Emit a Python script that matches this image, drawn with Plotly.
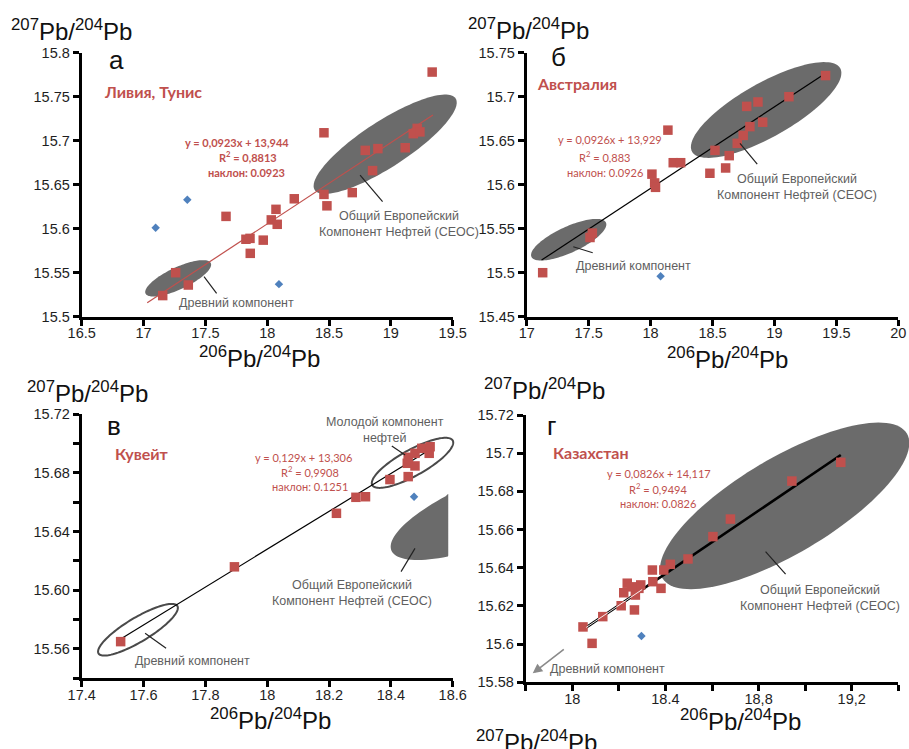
import numpy as np
import plotly.graph_objects as go

W, H = 909, 749

# ---------------- data ----------------
# а) Ливия, Тунис
a_x = [19.334, 18.459, 19.213, 19.181, 19.235, 18.793, 18.895, 19.116, 18.852, 18.688, 18.459, 18.483,
       18.219, 18.071, 17.667, 18.033, 18.081, 17.828, 17.861, 17.968, 17.863, 17.260, 17.362, 17.155]
a_y = [15.778, 15.709, 15.714, 15.708, 15.710, 15.689, 15.691, 15.692, 15.666, 15.641, 15.639, 15.626,
       15.634, 15.622, 15.614, 15.610, 15.605, 15.588, 15.589, 15.587, 15.572, 15.550, 15.536, 15.524]
a_bx = [17.354, 17.098, 18.095]
a_by = [15.633, 15.601, 15.537]
a_fit = dict(slope=0.0923, icpt=13.944, r2="0,8813", x=[17.03, 19.34])

# б) Австралия
b_x = [19.413, 19.117, 18.776, 18.867, 18.905, 18.802, 18.748, 18.700, 18.635, 18.520, 18.606,
       18.479, 18.140, 18.183, 18.243, 18.011, 18.033, 18.040, 17.511, 17.530, 17.129]
b_y = [15.724, 15.700, 15.689, 15.694, 15.671, 15.666, 15.656, 15.647, 15.633, 15.639, 15.619,
       15.613, 15.662, 15.625, 15.625, 15.612, 15.602, 15.597, 15.540, 15.545, 15.500]
b_bx = [18.081]
b_by = [15.496]
b_fit = dict(slope=0.0926, icpt=13.929, r2="0,883", x=[17.12, 19.41])

# в) Кувейт
v_x = [17.526, 17.894, 18.224, 18.287, 18.318, 18.397, 18.456, 18.478, 18.453, 18.456, 18.478,
       18.500, 18.524, 18.527]
v_y = [15.565, 15.616, 15.6525, 15.6634, 15.6638, 15.6755, 15.6775, 15.6848, 15.6866, 15.6907,
       15.6934, 15.6968, 15.6934, 15.6979]
v_bx = [18.475]
v_by = [15.6638]
v_fit = dict(slope=0.129, icpt=13.306, r2="0,9908", x=[17.526, 18.527])

# г) Казахстан
g_x = [19.153, 18.943, 18.679, 18.604, 18.497, 18.421, 18.393, 18.344, 18.346, 18.381, 18.294,
       18.236, 18.221, 18.271, 18.210, 18.267, 18.131, 18.046, 18.085, 18.286, 18.255]
g_y = [15.6952, 15.6854, 15.6655, 15.6563, 15.6446, 15.6418, 15.6388, 15.6388, 15.6327, 15.6292,
       15.6310, 15.6319, 15.6269, 15.6257, 15.6201, 15.6179, 15.6144, 15.6090, 15.6004, 15.6292,
       15.6300]
g_bx = [18.297]
g_by = [15.6043]
g_fit = dict(slope=0.0826, icpt=14.117, r2="0,9494", x=[18.046, 19.153])
g_fit_core = [18.06, 18.30]

# tick values / labels
a_xt = [16.5, 17, 17.5, 18, 18.5, 19, 19.5]
a_xl = ["16.5", "17", "17.5", "18", "18.5", "19", "19.5"]
a_yt = [15.5, 15.55, 15.6, 15.65, 15.7, 15.75, 15.8]
a_yl = ["15.5", "15.55", "15.6", "15.65", "15.7", "15.75", "15.8"]
b_xt = [17, 17.5, 18, 18.5, 19, 19.5, 20]
b_xl = ["17", "17.5", "18", "18.5", "19", "19.5", "20"]
b_yt = [15.45, 15.5, 15.55, 15.6, 15.65, 15.7, 15.75]
b_yl = ["15.45", "15.5", "15.55", "15.6", "15.65", "15.7", "15.75"]
v_xt = [17.4, 17.6, 17.8, 18.0, 18.2, 18.4, 18.6]
v_xl = ["17.4", "17.6", "17.8", "18", "18.2", "18.4", "18.6"]
v_yt = [15.54, 15.56, 15.58, 15.60, 15.62, 15.64, 15.66, 15.68, 15.70, 15.72]
v_yl = ["", "15.56", "", "15.60", "", "15.64", "", "15.68", "", "15.72"]
g_xt = [17.8, 18.0, 18.2, 18.4, 18.6, 18.8, 19.0, 19.2, 19.4]
g_xl = ["", "18", "", "18.4", "", "18,8", "", "19,2", ""]
g_yt = [15.58, 15.60, 15.62, 15.64, 15.66, 15.68, 15.70, 15.72]
g_yl = ["15.58", "15.6", "15.62", "15.64", "15.66", "15.68", "15.7", "15.72"]

# ---------------- styling ----------------
RED = "#c0504d"
BLUE = "#4f81bd"
GREY_FILL = "#6b6b6b"
LABEL_GREY = "#5f5f5f"
ARIAL = "Liberation Sans, Arial, sans-serif"
CALI = "Lato, Open Sans, sans-serif"

PANELS = {
    "a": dict(ax="", xd=(81.7 / W, 452.7 / W), yd=(1 - 316.7 / H, 1 - 52.7 / H),
              xr=(16.5, 19.5), yr=(15.5, 15.8)),
    "b": dict(ax="2", xd=(526.7 / W, 898.3 / W), yd=(1 - 316.7 / H, 1 - 52.7 / H),
              xr=(17.0, 20.0), yr=(15.45, 15.75)),
    "v": dict(ax="3", xd=(81.7 / W, 452.7 / W), yd=(1 - 678.3 / H, 1 - 414.3 / H),
              xr=(17.4, 18.6), yr=(15.54, 15.72)),
    "g": dict(ax="4", xd=(525.7 / W, 898.3 / W), yd=(1 - 682.3 / H, 1 - 415.0 / H),
              xr=(17.8, 19.4), yr=(15.58, 15.72)),
}


def to_paper(p, x, y):
    P = PANELS[p]
    px = P["xd"][0] + (x - P["xr"][0]) / (P["xr"][1] - P["xr"][0]) * (P["xd"][1] - P["xd"][0])
    py = P["yd"][0] + (y - P["yr"][0]) / (P["yr"][1] - P["yr"][0]) * (P["yd"][1] - P["yd"][0])
    return px, py


def ellipse_path(p, cx, cy, a_px, b_px, ang, clip_x=None):
    x0, y0 = to_paper(p, cx, cy)
    t = np.linspace(0, 2 * np.pi, 121)
    th = np.radians(ang)
    dx = a_px * np.cos(t) * np.cos(th) - b_px * np.sin(t) * np.sin(th)
    dy = a_px * np.cos(t) * np.sin(th) + b_px * np.sin(t) * np.cos(th)
    xs = x0 + dx / W
    ys = y0 + dy / H
    if clip_x is not None:
        xs = np.minimum(xs, to_paper(p, clip_x, cy)[0])
    pts = " L ".join(f"{a:.5f},{b:.5f}" for a, b in zip(xs, ys))
    return "M " + pts + " Z"


fig = go.Figure()
shapes = []
annotations = []


def add_panel(p, xs, ys, bx, by, fit, line_color, line_w):
    ax = PANELS[p]["ax"]
    xref, yref = "x" + ax, "y" + ax
    fx = np.array(fit["x"])
    fy = fit["slope"] * fx + fit["icpt"]
    fig.add_trace(go.Scatter(x=fx, y=fy, mode="lines", xaxis=xref, yaxis=yref,
                             line=dict(color=line_color, width=line_w), hoverinfo="skip"))
    fig.add_trace(go.Scatter(x=xs, y=ys, mode="markers", xaxis=xref, yaxis=yref,
                             marker=dict(symbol="square", size=9.5, color=RED), cliponaxis=False))
    fig.add_trace(go.Scatter(x=bx, y=by, mode="markers", xaxis=xref, yaxis=yref,
                             marker=dict(symbol="diamond", size=6.5, color=BLUE), cliponaxis=False))


add_panel("a", a_x, a_y, a_bx, a_by, a_fit, RED, 1.2)
add_panel("b", b_x, b_y, b_bx, b_by, b_fit, "black", 1.2)
add_panel("v", v_x, v_y, v_bx, v_by, v_fit, "black", 1.2)
add_panel("g", g_x, g_y, g_bx, g_by, g_fit, "black", 2.6)
# light core of the Kazakhstan trend line near its lower end
cx_ = np.array(g_fit_core)
fig.add_trace(go.Scatter(x=cx_, y=g_fit["slope"] * cx_ + g_fit["icpt"], mode="lines",
                         xaxis="x4", yaxis="y4", line=dict(color="white", width=0.9),
                         hoverinfo="skip"))

# ---------------- axes ----------------
axis_common = dict(showline=True, linecolor="black", linewidth=3, ticks="outside", ticklen=6,
                   tickwidth=3, tickcolor="black", showgrid=False, zeroline=False,
                   automargin=False,
                   tickfont=dict(family=ARIAL, size=14.5, color="#1e1e1e"), tickmode="array",
                   fixedrange=True)
ticks = {"a": (a_xt, a_xl, a_yt, a_yl), "b": (b_xt, b_xl, b_yt, b_yl),
         "v": (v_xt, v_xl, v_yt, v_yl), "g": (g_xt, g_xl, g_yt, g_yl)}
layout_axes = {}
for p, P in PANELS.items():
    ax = P["ax"]
    xt, xl, yt, yl = ticks[p]
    layout_axes["xaxis" + ax] = dict(axis_common, domain=list(P["xd"]), range=list(P["xr"]),
                                     tickvals=xt, ticktext=xl, anchor="y" + ax,
                                     ticklabelstandoff=-5)
    layout_axes["yaxis" + ax] = dict(axis_common, domain=list(P["yd"]), range=list(P["yr"]),
                                     tickvals=yt, ticktext=yl, anchor="x" + ax)

# ---------------- ellipses ----------------
def fill_ellipse(p, cx, cy, a_px, b_px, ang, clip_x=None):
    shapes.append(dict(type="path", xref="paper", yref="paper", layer="below",
                       path=ellipse_path(p, cx, cy, a_px, b_px, ang, clip_x),
                       fillcolor=GREY_FILL, line=dict(width=0)))


def ring_ellipse(p, cx, cy, a_px, b_px, ang):
    shapes.append(dict(type="path", xref="paper", yref="paper", layer="below",
                       path=ellipse_path(p, cx, cy, a_px, b_px, ang),
                       fillcolor="rgba(0,0,0,0)", line=dict(color="#4a4a4a", width=2)))


fill_ellipse("a", 18.954, 15.696, 84, 23, 33)
fill_ellipse("a", 17.280, 15.5436, 36, 11, 25)
fill_ellipse("b", 18.933, 15.6849, 85, 27, 29.4)
fill_ellipse("b", 17.339, 15.5375, 41, 13, 24.7)
ring_ellipse("v", 18.470, 15.6869, 46, 13, 29)
ring_ellipse("v", 17.582, 15.5731, 46, 12, 31)
fill_ellipse("v", 18.7315, 15.6553, 110, 32, 22, clip_x=18.5856)
fill_ellipse("g", 18.912, 15.6724, 142, 48, 30.6)


def leader(p, x0, y0, x1, y1, color="#222222"):
    ax = PANELS[p]["ax"]
    shapes.append(dict(type="line", xref="x" + ax, yref="y" + ax, x0=x0, y0=y0, x1=x1, y1=y1,
                       line=dict(color=color, width=1.2)))


leader("a", 18.751, 15.661, 18.933, 15.6307)
leader("a", 17.489, 15.5455, 17.591, 15.5266)
leader("b", 18.722, 15.647, 18.861, 15.6235)
leader("b", 17.376, 15.5295, 17.533, 15.5227)
leader("v", 18.403, 15.6984, 18.446, 15.6922)
leader("v", 17.605, 15.5707, 17.673, 15.5605)
leader("v", 18.478, 15.6286, 18.433, 15.6127)
leader("g", 18.830, 15.6484, 18.916, 15.6367)

# ---------------- labels ----------------
def label(p, x, y, text, size, color, family, **kw):
    ax = PANELS[p]["ax"]
    annotations.append(dict(xref="x" + ax, yref="y" + ax, x=x, y=y, text=text, showarrow=False,
                            font=dict(family=family, size=size, color=color),
                            xanchor="center", yanchor="middle", **kw))


CEOC = "Общий Европейский<br>Компонент Нефтей (СЕОС)"
OLD = "Древний компонент"

# а
label("a", 16.783, 15.7917, "а", 26, "#111111", ARIAL)
label("a", 17.080, 15.7557, "<b>Ливия, Тунис</b>", 16, RED, CALI)
label("a", 17.753, 15.6977, "<b>y = 0,0923x + 13,944</b>", 11, RED, CALI)
label("a", 17.842, 15.6818, f"<b>R<sup>2</sup> = {a_fit['r2']}</b>", 11, RED, CALI)
label("a", 17.834, 15.6636, "<b>наклон: 0.0923</b>", 11, RED, CALI)
label("a", 19.065, 15.6048, CEOC, 12.5, LABEL_GREY, ARIAL)
label("a", 17.750, 15.5156, OLD, 12.5, LABEL_GREY, ARIAL)
# б
label("b", 17.255, 15.7448, "б", 26, "#111111", ARIAL)
label("b", 17.406, 15.7152, "<b>Австралия</b>", 16, RED, CALI)
label("b", 17.672, 15.6516, "y = 0,0926x + 13,929", 11, RED, CALI)
label("b", 17.630, 15.6326, f"R<sup>2</sup> = {b_fit['r2']}", 11, RED, CALI)
label("b", 17.630, 15.6144, "наклон: 0.0926", 11, RED, CALI)
label("b", 19.186, 15.5974, CEOC, 12.5, LABEL_GREY, ARIAL)
label("b", 17.860, 15.5080, OLD, 12.5, LABEL_GREY, ARIAL)
# в
label("v", 17.5035, 15.7122, "в", 26, "#111111", ARIAL)
label("v", 17.594, 15.6934, "<b>Кувейт</b>", 16, RED, CALI)
label("v", 18.118, 15.6907, "y = 0,129x + 13,306", 11, RED, CALI)
label("v", 18.138, 15.6813, f"R<sup>2</sup> = {v_fit['r2']}", 11, RED, CALI)
label("v", 18.138, 15.6706, "наклон: 0.1251", 11, RED, CALI)
label("v", 18.3825, 15.7095, "Молодой компонент<br>нефтей", 12.5, LABEL_GREY, ARIAL)
label("v", 18.275, 15.5980, CEOC, 12.5, LABEL_GREY, ARIAL)
label("v", 17.759, 15.5520, OLD, 12.5, LABEL_GREY, ARIAL)
# г
label("g", 17.910, 15.7144, "г", 26, "#111111", ARIAL)
label("g", 18.080, 15.7003, "<b>Казахстан</b>", 16, RED, CALI)
label("g", 18.374, 15.6895, "y = 0,0826x + 14,117", 11, RED, CALI)
label("g", 18.3675, 15.6816, f"R<sup>2</sup> = {g_fit['r2']}", 11, RED, CALI)
label("g", 18.370, 15.6734, "наклон: 0.0826", 11, RED, CALI)
label("g", 19.062, 15.6244, CEOC, 12.5, LABEL_GREY, ARIAL)
label("g", 18.151, 15.5870, OLD, 12.5, LABEL_GREY, ARIAL)
annotations.append(dict(xref="x4", yref="y4", axref="x4", ayref="y4", x=17.83, y=15.5847,
                        ax=17.970, ay=15.5978, text="", showarrow=True, arrowhead=2,
                        arrowsize=1.2, arrowwidth=1.6, arrowcolor="#8a8a8a"))

# axis titles
PB207 = "<sup>207</sup>Pb/<sup>204</sup>Pb"
PB206 = "<sup>206</sup>Pb/<sup>204</sup>Pb"
for (cx, cy, txt) in [(71.7, 30, PB207), (259, 357, PB206), (528.3, 28.5, PB207),
                      (727.7, 358, PB206), (87.5, 391.5, PB207), (270, 718.5, PB206),
                      (544, 389, PB207), (740, 719.5, PB206), (536.7, 740.5, PB207)]:
    annotations.append(dict(xref="paper", yref="paper", x=cx / W, y=1 - cy / H, text=txt,
                            showarrow=False, xanchor="center", yanchor="middle",
                            font=dict(family=ARIAL, size=24, color="#111111")))

fig.update_layout(width=W, height=H, margin=dict(l=0, r=0, t=0, b=0, autoexpand=False),
                  paper_bgcolor="white", plot_bgcolor="white", showlegend=False,
                  shapes=shapes, annotations=annotations, **layout_axes)

fig.write_html("out.html")
